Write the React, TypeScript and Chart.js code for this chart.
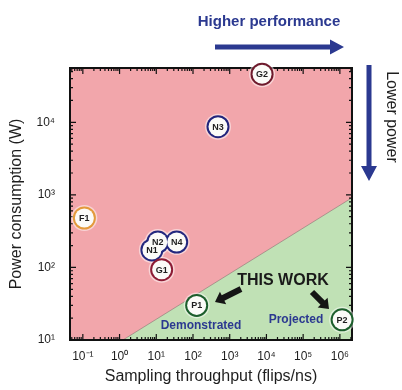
import React, { useEffect, useRef } from 'react';
import { Chart, registerables } from 'chart.js';

Chart.register(...registerables);

// ---- data ----
const xDecades = [-1, 0, 1, 2, 3, 4, 5, 6];
const yDecades = [1, 2, 3, 4];
const xMin = 0.0447; // 10^-1.35
const xMax = 2.14e6; // 10^6.33
const yMin = 10;
const yMax = 5.6e4; // 10^4.75

const deviceLabels = ['G2', 'N3', 'F1', 'N2', 'N4', 'N1', 'G1', 'P1', 'P2'];
const throughput = [7.6e3, 4.8e2, 0.11, 11, 36, 7.6, 14, 126, 1.15e6];
const power = [4.6e4, 8.7e3, 480, 224, 224, 174, 93, 30, 19];
const ringColors = ['#6e1a2c', '#22257c', '#e39a3c', '#22277e', '#22277e', '#22277e', '#8c1b34', '#1c5e2c', '#1c5e2c'];

const boundaryThroughput = [1.23, 2.14e6];
const boundaryPower = [10, 912];

const SUP: Record<string, string> = { '-': '⁻', '0': '⁰', '1': '¹', '2': '²', '3': '³', '4': '⁴', '5': '⁵', '6': '⁶', '7': '⁷', '8': '⁸', '9': '⁹' };
const pow10Label = (e: number) => '10' + String(e).split('').map((c) => SUP[c]).join('');

const FONT = '"Liberation Sans", Arial, sans-serif';
const PINK = '#f2a6ab';
const GREEN = '#c0e1b5';
const NAVY = '#2b3990';

function drawArrow(ctx: CanvasRenderingContext2D, x1: number, y1: number, x2: number, y2: number, shaftW: number, headW: number, headL: number, color: string) {
  const ang = Math.atan2(y2 - y1, x2 - x1);
  const len = Math.hypot(x2 - x1, y2 - y1);
  ctx.save();
  ctx.translate(x1, y1);
  ctx.rotate(ang);
  ctx.fillStyle = color;
  ctx.beginPath();
  ctx.moveTo(0, -shaftW / 2);
  ctx.lineTo(len - headL, -shaftW / 2);
  ctx.lineTo(len - headL, -headW / 2);
  ctx.lineTo(len, 0);
  ctx.lineTo(len - headL, headW / 2);
  ctx.lineTo(len - headL, shaftW / 2);
  ctx.lineTo(0, shaftW / 2);
  ctx.closePath();
  ctx.fill();
  ctx.restore();
}

const decorPlugin = {
  id: 'decor',
  beforeDatasetsDraw(chart: any) {
    const { ctx, chartArea: a } = chart;
    ctx.save();
    ctx.fillStyle = PINK;
    ctx.fillRect(a.left, a.top, a.right - a.left, a.bottom - a.top);
    ctx.restore();
  },
  afterDatasetDraw(chart: any, args: any) {
    if (args.index !== 0) return;
    const { ctx, chartArea: a } = chart;
    const xs = chart.scales.x;
    const ys = chart.scales.y;
    ctx.save();
    ctx.strokeStyle = '#111';
    ctx.lineWidth = 1.2;
    ctx.beginPath();
    for (let d = -2; d <= 7; d++) {
      for (let k = 1; k <= 9; k++) {
        const v = k * Math.pow(10, d);
        if (v < xs.min || v > xs.max) continue;
        const px = xs.getPixelForValue(v);
        const L = k === 1 ? 6 : 3;
        ctx.moveTo(px, a.bottom);
        ctx.lineTo(px, a.bottom - L);
        ctx.moveTo(px, a.top);
        ctx.lineTo(px, a.top + L);
      }
    }
    for (let d = 0; d <= 5; d++) {
      for (let k = 1; k <= 9; k++) {
        const v = k * Math.pow(10, d);
        if (v < ys.min || v > ys.max) continue;
        const py = ys.getPixelForValue(v);
        const L = k === 1 ? 6 : 3;
        ctx.moveTo(a.left, py);
        ctx.lineTo(a.left + L, py);
        ctx.moveTo(a.right, py);
        ctx.lineTo(a.right - L, py);
      }
    }
    ctx.stroke();
    ctx.lineWidth = 2;
    ctx.strokeRect(a.left, a.top, a.right - a.left, a.bottom - a.top);
    ctx.restore();
  },
  afterDatasetsDraw(chart: any) {
    const { ctx } = chart;
    const meta = chart.getDatasetMeta(3);
    ctx.save();
    ctx.fillStyle = '#1e1e1e';
    ctx.font = `bold 9px ${FONT}`;
    ctx.textAlign = 'center';
    ctx.textBaseline = 'middle';
    meta.data.forEach((el: any, i: number) => {
      ctx.fillText(deviceLabels[i], el.x, el.y + 0.5);
    });

    // annotations inside plot
    ctx.fillStyle = '#1a1a1a';
    ctx.font = `bold 16px ${FONT}`;
    ctx.fillText('THIS WORK', 283, 281);
    ctx.fillStyle = NAVY;
    ctx.font = `bold 12px ${FONT}`;
    ctx.fillText('Demonstrated', 201, 326);
    ctx.fillText('Projected', 296, 320);
    drawArrow(ctx, 241, 289, 215, 302, 6, 14, 9, '#151515');
    drawArrow(ctx, 312, 292, 329, 309, 6, 14, 9, '#151515');

    // outside decorations
    ctx.fillStyle = NAVY;
    ctx.font = `bold 15px ${FONT}`;
    ctx.fillText('Higher performance', 269, 22);
    drawArrow(ctx, 215, 47, 344, 47, 5, 15, 14, NAVY);
    drawArrow(ctx, 369, 65, 369, 181, 5, 16, 15, NAVY);

    ctx.save();
    ctx.translate(391, 117);
    ctx.rotate(Math.PI / 2);
    ctx.fillStyle = '#1e1e1e';
    ctx.font = `16px ${FONT}`;
    ctx.fillText('Lower power', 0, 0);
    ctx.restore();
    ctx.restore();
  },
};

export default function App() {
  const ref = useRef<HTMLCanvasElement>(null);
  useEffect(() => {
    if (!ref.current) return;
    const points = throughput.map((x, i) => ({ x, y: power[i] }));
    const chart = new Chart(ref.current, {
      type: 'scatter',
      data: {
        datasets: [
          {
            data: boundaryThroughput.map((x, i) => ({ x, y: boundaryPower[i] })),
            showLine: true,
            borderColor: 'rgba(130,110,110,0.55)',
            borderWidth: 1,
            pointRadius: 0,
            fill: 'start',
            backgroundColor: GREEN,
            order: 10,
          } as any,
          {
            data: points,
            pointRadius: 13,
            pointBorderWidth: 0,
            pointBackgroundColor: 'rgba(255,255,255,0.5)',
            clip: false,
            order: 3,
          } as any,
          {
            data: points,
            pointRadius: 11.5,
            pointBorderWidth: 0,
            pointBackgroundColor: ringColors,
            clip: false,
            order: 2,
          } as any,
          {
            data: points,
            pointRadius: 9.5,
            pointBorderWidth: 0,
            pointBackgroundColor: '#fbfbf8',
            clip: false,
            order: 1,
          } as any,
        ],
      },
      options: {
        animation: false,
        responsive: false,
        events: [],
        layout: { padding: { left: 3, top: 68, right: 50, bottom: 0 } },
        plugins: { legend: { display: false }, tooltip: { enabled: false } },
        scales: {
          x: {
            type: 'logarithmic',
            min: xMin,
            max: xMax,
            afterBuildTicks: (s: any) => {
              s.ticks = xDecades.map((e) => ({ value: Math.pow(10, e) }));
            },
            afterFit: (s: any) => {
              s.height = 50;
            },
            grid: { display: false, drawTicks: false },
            border: { display: false },
            ticks: {
              autoSkip: false,
              maxRotation: 0,
              padding: 9,
              color: '#1e1e1e',
              font: { family: FONT, size: 12 },
              callback: (v: any) => pow10Label(Math.round(Math.log10(Number(v)))),
            },
            title: {
              display: true,
              text: 'Sampling throughput (flips/ns)',
              color: '#1e1e1e',
              font: { family: FONT, size: 16 },
            },
          },
          y: {
            type: 'logarithmic',
            min: yMin,
            max: yMax,
            afterBuildTicks: (s: any) => {
              s.ticks = yDecades.map((e) => ({ value: Math.pow(10, e) }));
            },
            afterFit: (s: any) => {
              s.width = 67;
            },
            grid: { display: false, drawTicks: false },
            border: { display: false },
            ticks: {
              autoSkip: false,
              padding: 15,
              color: '#1e1e1e',
              font: { family: FONT, size: 12 },
              callback: (v: any) => pow10Label(Math.round(Math.log10(Number(v)))),
            },
            title: {
              display: true,
              text: 'Power consumption (W)',
              color: '#1e1e1e',
              font: { family: FONT, size: 16 },
            },
          },
        },
      } as any,
      plugins: [decorPlugin as any],
    });
    return () => chart.destroy();
  }, []);
  return (
    <div style={{ position: 'absolute', left: 0, top: 0, width: 402, height: 390, background: '#fff' }}>
      <canvas ref={ref} width={402} height={390} style={{ display: 'block' }} />
    </div>
  );
}
